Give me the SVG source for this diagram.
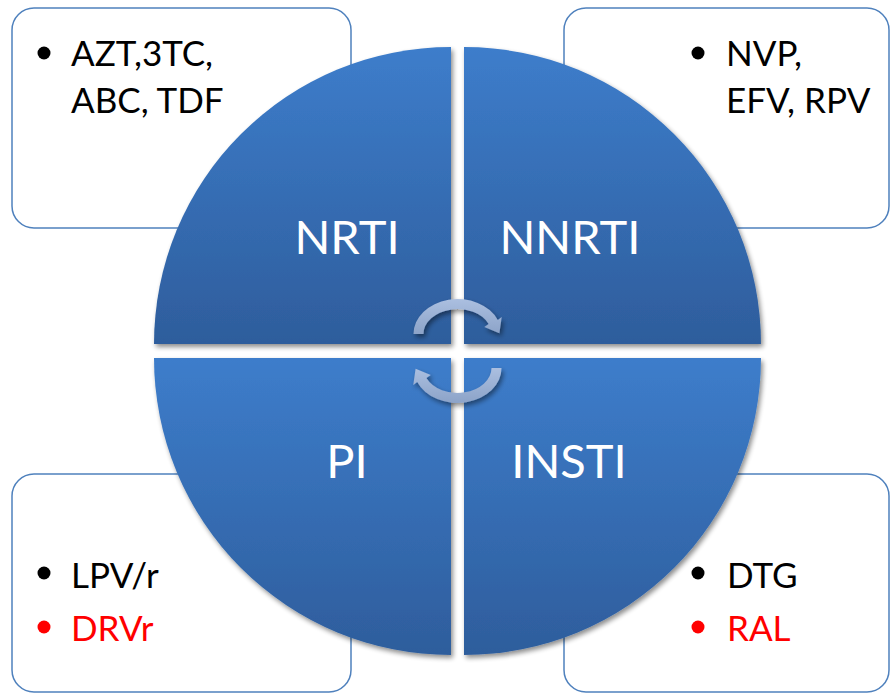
<svg xmlns="http://www.w3.org/2000/svg" width="890" height="693" viewBox="0 0 890 693">
  <style>
    .box { fill: #ffffff; stroke: #4F81BD; stroke-width: 1.5; }
    .quad { filter: url(#soft); }
    .label { font-family: Lato, "Open Sans", "Liberation Sans", sans-serif; font-size: 47px; fill: #ffffff; text-anchor: middle; }
    .item { font-family: Lato, "Open Sans", "Liberation Sans", sans-serif; font-size: 35px; fill: #000000; }
    .red { fill: #FF0000; }
  </style>
  <defs>
    <linearGradient id="quadFill" x1="0" y1="0" x2="0" y2="1">
      <stop offset="0" stop-color="#3D7DCB"/>
      <stop offset="1" stop-color="#2E5D9C"/>
    </linearGradient>
    <linearGradient id="arrowTop" x1="0" y1="0" x2="0" y2="1">
      <stop offset="0" stop-color="#ABBFE0"/>
      <stop offset="1" stop-color="#8CA3C8"/>
    </linearGradient>
    <linearGradient id="arrowBottom" x1="0" y1="1" x2="0" y2="0">
      <stop offset="0" stop-color="#ABBFE0"/>
      <stop offset="1" stop-color="#8CA3C8"/>
    </linearGradient>
    <filter id="soft" x="-10%" y="-10%" width="125%" height="125%">
      <feGaussianBlur in="SourceAlpha" stdDeviation="2.5"/>
      <feOffset dx="2" dy="3" result="b"/>
      <feComponentTransfer><feFuncA type="linear" slope="0.45"/></feComponentTransfer>
      <feMerge><feMergeNode/><feMergeNode in="SourceGraphic"/></feMerge>
    </filter>
  </defs>

  <!-- drug lists in the corners -->
  <g id="box-nrti">
    <rect class="box" x="12" y="8" width="339" height="220" rx="22"/>
    <circle cx="44" cy="53" r="6.5"/>
    <text class="item" x="71" y="66">AZT,3TC,</text>
    <text class="item" x="71" y="113">ABC, TDF</text>
  </g>
  <g id="box-nnrti">
    <rect class="box" x="564" y="8" width="325" height="220" rx="22"/>
    <circle cx="698" cy="53" r="6.5"/>
    <text class="item" x="726" y="66">NVP,</text>
    <text class="item" x="726" y="113">EFV, RPV</text>
  </g>
  <g id="box-pi">
    <rect class="box" x="12" y="474" width="339" height="218" rx="22"/>
    <circle cx="44" cy="573" r="6.5"/>
    <text class="item" x="71" y="588">LPV/r</text>
    <circle cx="44" cy="627" r="6.5" fill="#FF0000"/>
    <text class="item red" x="71" y="641">DRVr</text>
  </g>
  <g id="box-insti">
    <rect class="box" x="564" y="474" width="325" height="218" rx="22"/>
    <circle cx="698" cy="573" r="6.5"/>
    <text class="item" x="727" y="588">DTG</text>
    <circle cx="698" cy="627" r="6.5" fill="#FF0000"/>
    <text class="item red" x="727" y="641">RAL</text>
  </g>

  <!-- the four quarter-circle classes -->
  <g id="nrti">
    <path class="quad" fill="url(#quadFill)" d="M451 344 L154 344 A297 297 0 0 1 451 47 Z"/>
    <text class="label" x="347" y="254">NRTI</text>
  </g>
  <g id="nnrti">
    <path class="quad" fill="url(#quadFill)" d="M464 344 L464 47 A297 297 0 0 1 761 344 Z"/>
    <text class="label" x="570" y="254">NNRTI</text>
  </g>
  <g id="pi">
    <path class="quad" fill="url(#quadFill)" d="M451 358 L451 655 A297 297 0 0 1 154 358 Z"/>
    <text class="label" x="347" y="478">PI</text>
  </g>
  <g id="insti">
    <path class="quad" fill="url(#quadFill)" d="M464 358 L761 358 A297 297 0 0 1 464 655 Z"/>
    <text class="label" x="569" y="478">INSTI</text>
  </g>

  <!-- cycle arrows in the middle -->
  <g id="connectors" filter="url(#soft)">
    <path fill="url(#arrowTop)" d="M413.5 334 A44 35 0 0 1 497.8 320 L501.7 317.1 L499.4 333.3 L484.3 326.9 L488.6 324 A34 25 0 0 0 423.5 334 Z"/>
    <path fill="url(#arrowBottom)" transform="rotate(180 457.5 351)" d="M413.5 334 A44 35 0 0 1 497.8 320 L501.7 317.1 L499.4 333.3 L484.3 326.9 L488.6 324 A34 25 0 0 0 423.5 334 Z"/>
  </g>
</svg>
